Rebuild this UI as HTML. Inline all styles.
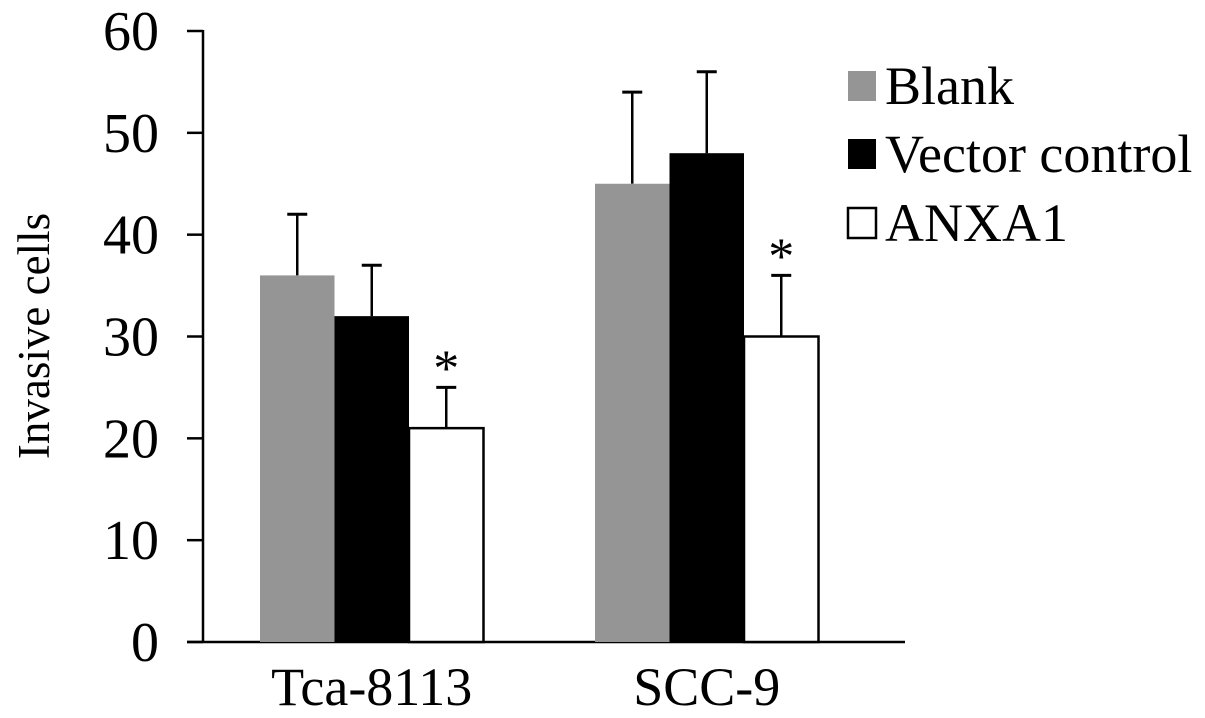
<!DOCTYPE html>
<html><head><meta charset="utf-8"><style>
body{margin:0;background:#fff;}
svg{display:block;font-family:"Liberation Serif",serif;}
</style></head><body>
<svg id="chart" width="1205" height="718">
<g id="axes"></g><g id="bars"></g><g id="legend"></g>
</svg>
<script>
const categories=["Tca-8113","SCC-9"];
const seriesNames=["Blank","Vector control","ANXA1"];
const blankVals=[36,45];
const vectorVals=[32,48];
const anxaVals=[21,30];
const blankErr=[6,9];
const vectorErr=[5,8];
const anxaErr=[4,6];
const significant=[[false,false,true],[false,false,true]];
const yTicks=[0,10,20,30,40,50,60];

const NS="http://www.w3.org/2000/svg";
const x0=203,xEnd=905,y0=642,yTop=31,yMax=60;
const fills=["#959595","#000000","#ffffff"];
const groupStart=[260,595],barW=74.5;
function yS(v){return y0-(v/yMax)*(y0-yTop);}
function mk(tag,attrs,parent,txt){const e=document.createElementNS(NS,tag);for(const k in attrs)e.setAttribute(k,attrs[k]);if(txt!==undefined)e.textContent=txt;parent.appendChild(e);return e;}
const axes=document.getElementById('axes'),bars=document.getElementById('bars'),legend=document.getElementById('legend');
let e=mk('line',{x1:x0,y1:yTop-1,x2:x0,y2:y0,stroke:'#000','stroke-width':2.5},axes);


e=mk('line',{x1:x0-16,y1:y0,x2:xEnd,y2:y0,stroke:'#000','stroke-width':2.5},axes);


yTicks.forEach(t=>{
 const y=yS(t);
 let l=mk('line',{x1:x0-16,y1:y,x2:x0,y2:y,stroke:'#000','stroke-width':2.5},axes);
 
 
 let tx=mk('text',{x:x0-44,y:y+19,'text-anchor':'end','font-size':56},axes,String(t));
 
 
});
e=mk('text',{x:0,y:0,transform:'translate(49,336) rotate(-90)','text-anchor':'middle','font-size':45},axes,'Invasive cells');


const vals=[blankVals,vectorVals,anxaVals],errs=[blankErr,vectorErr,anxaErr];
categories.forEach((c,ci)=>{
 let tx=mk('text',{x:groupStart[ci]+barW*1.5,y:705,'text-anchor':'middle','font-size':54},axes,c);
 
 
 for(let s=0;s<3;s++){
  const v=vals[s][ci],er=errs[s][ci];
  const bx=groupStart[ci]+s*barW,cx=bx+barW/2;
  const yt=yS(v),ye=yS(v+er);
  let ln=mk('line',{x1:cx,y1:ye,x2:cx,y2:yt,stroke:'#000','stroke-width':2.5},bars);
  
  
  let cp=mk('line',{x1:cx-10,y1:ye,x2:cx+10,y2:ye,stroke:'#000','stroke-width':3},bars);
  
  
  let r=mk('rect',{x:bx,y:yt,width:barW,height:y0-yt,fill:fills[s],stroke:s==2?'#000':'none','stroke-width':2.5},bars);
  
  
  if(significant[ci][s]){
   let st=mk('text',{x:cx,y:ye-2,'text-anchor':'middle','font-size':52},bars,'*');
   
   
  }
 }
});
const legY=[86,154,223];
seriesNames.forEach((n,i)=>{
 let r=mk('rect',{x:848,y:legY[i]-15,width:28,height:30,fill:fills[i],stroke:i==2?'#000':'none','stroke-width':2.5},legend);
 
 
 let t=mk('text',{x:885,y:legY[i]+18,'font-size':54},legend,n);
 
 
});
</script>
</body></html>
